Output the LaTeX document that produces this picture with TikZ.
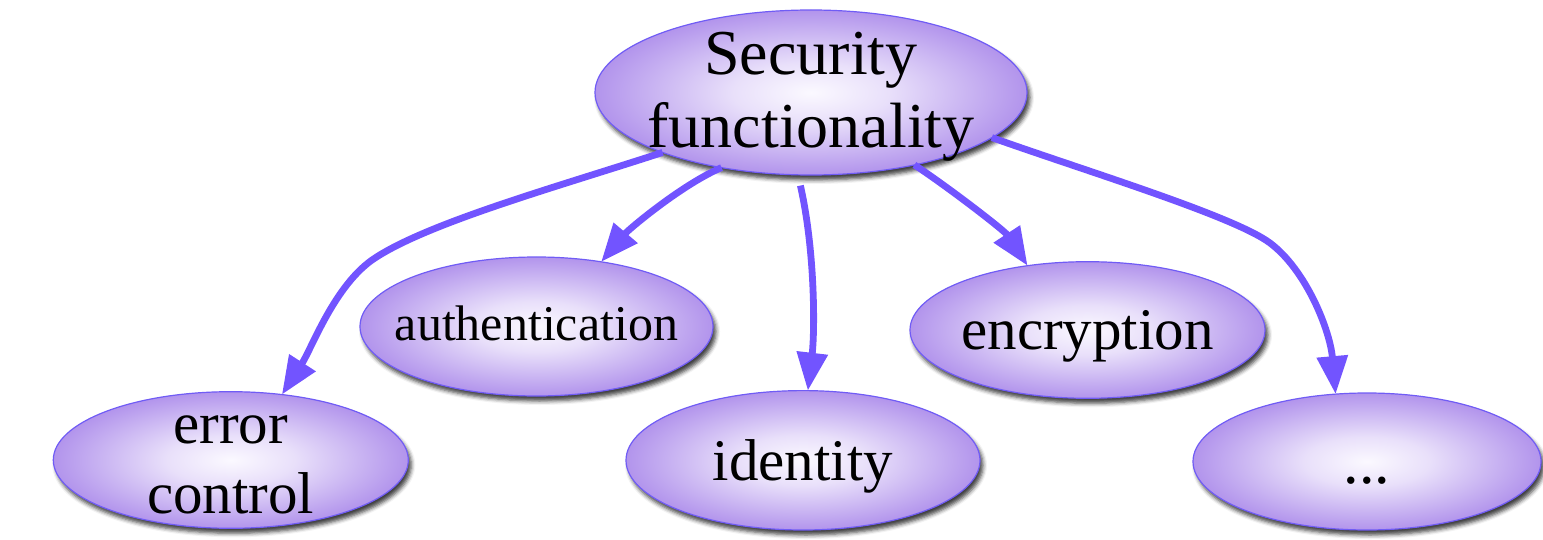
\documentclass[tikz,border=0pt]{standalone}
\usepackage{fontspec}
\setmainfont{Liberation Serif}
\usetikzlibrary{shapes.geometric,arrows.meta,shadows.blur}
\definecolor{arrowc}{RGB}{114,84,255}
\definecolor{edgec}{RGB}{112,92,245}
\definecolor{outerc}{RGB}{178,148,236}
\definecolor{innerc}{RGB}{251,249,255}
\pgfdeclareradialshading{bubbleshade}{\pgfpoint{0bp}{0bp}}{color(0bp)=(innerc); color(9bp)=(innerc!75!outerc); color(25bp)=(outerc); color(50bp)=(outerc)}
\begin{document}
\begin{tikzpicture}[x=1pt,y=-1pt,
  bubble/.style={ellipse, draw=edgec, line width=1.2pt, inner sep=0pt, outer sep=0pt,
    shading=bubbleshade,
    blur shadow={shadow xshift=3pt, shadow yshift=-5pt, shadow blur radius=4pt, shadow opacity=75}},
  lbl/.style={font=\fontsize{59}{70}\selectfont, align=center, inner sep=0pt},
  link/.style={draw=arrowc, line width=6.8pt, -{Triangle[length=38pt,width=30pt]}},
]
\useasboundingbox (0,0) rectangle (1543,540);

\node[bubble, minimum width=432pt, minimum height=165pt,
  label={[lbl,font=\fontsize{64}{73}\selectfont,yshift=-4pt]center:Security\\functionality}] (sec) at (811,92.5) {};
\node[bubble, minimum width=353pt, minimum height=139pt,
  label={[lbl,font=\fontsize{50}{58}\selectfont,yshift=3pt]center:authentication}] (auth) at (536.5,326.5) {};
\node[bubble, minimum width=355pt, minimum height=136.6pt,
  label={[lbl,yshift=-5pt]center:error\\control}] (err) at (230.8,460) {};
\node[bubble, minimum width=354pt, minimum height=139.4pt,
  label={[lbl,yshift=-6pt]center:identity}] (ident) at (803,460.3) {};
\node[bubble, minimum width=355pt, minimum height=136.6pt,
  label={[lbl,yshift=-6pt]center:encryption}] (enc) at (1087.5,330) {};
\node[bubble, minimum width=348pt, minimum height=137pt,
  label={[lbl,font=\fontsize{62}{70}\selectfont,yshift=-19pt]center:...}] (more) at (1367,461.5) {};

\draw[link] (sec.202) .. controls (560,186) and (430,222) .. (375,258)
  .. controls (335,284) and (312,348) .. (err.52);
\draw[link] (sec.220) .. controls (682,184.5) and (629,229) .. (auth.45);
\draw[link, shorten <=11pt] (sec.261) .. controls (815,250) and (815,330) .. (ident.86);
\draw[link] (sec.325) .. controls (948,187) and (1004.6,230.6) .. (enc.133);
\draw[link] (sec.346.5) .. controls (1087,171.4) and (1233.9,216.1) .. (1270,243)
  .. controls (1306,269.9) and (1330,330) .. (more.115);
\end{tikzpicture}
\end{document}
